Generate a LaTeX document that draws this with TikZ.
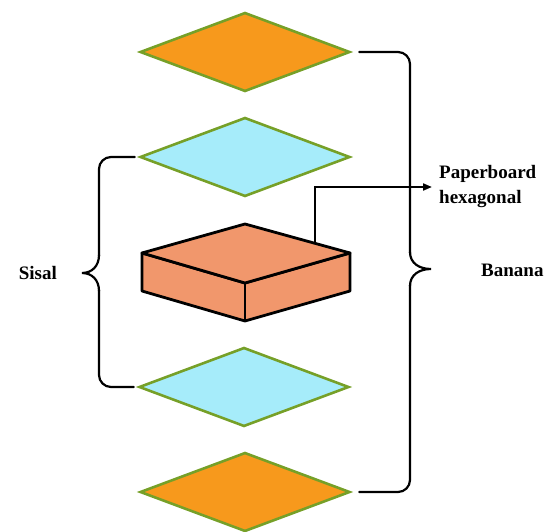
\documentclass[tikz,border=0pt]{standalone}
\usepackage{fontspec}
\setmainfont{Liberation Serif}
\usetikzlibrary{arrows.meta, shapes.geometric, positioning}
\definecolor{sheetorange}{RGB}{247,153,28}
\definecolor{sheetcyan}{RGB}{166,236,250}
\definecolor{leafgreen}{RGB}{118,160,40}
\definecolor{boardsalmon}{RGB}{241,151,108}

\begin{document}
\begin{tikzpicture}[x=1pt, y=-1pt,
  sheet/.style={diamond, aspect=2.66, draw=leafgreen, line width=2.6pt, minimum width=210pt, minimum height=79pt, inner sep=0pt},
  brace/.style={line width=2.2pt, line cap=round},
  lbl/.style={font=\fontsize{19}{25}\selectfont\bfseries, inner sep=0pt}]
\useasboundingbox (0,0) rectangle (552,532);

% fibre sheets
\node[sheet, fill=sheetorange] (bananaA) at (245,52) {};
\node[sheet, fill=sheetcyan] (sisalA) at (245,157) {};
\node[sheet, fill=sheetcyan] (sisalB) at (244,387) {};
\node[sheet, fill=sheetorange] (bananaB) at (245,492) {};

% paperboard core
\coordinate (c1) at (142,253);
\coordinate (c2) at (245,224);
\coordinate (c3) at (350,253);
\coordinate (c4) at (245,283);
\draw[line width=2.8pt, line join=round, fill=boardsalmon] (c1) -- (c4) -- (c3) -- ++(0,38) -- ++(-105,30) -- ++(-103,-30) -- cycle;
\draw[line width=2.8pt, line join=round, fill=boardsalmon] (c1) -- (c2) -- (c3) -- (c4) -- cycle;
\draw[line width=2.8pt] (c4) -- ++(0,38);
\coordinate (lid) at (315,243.5);

% labels
\node[lbl, anchor=east] (sisal) at (57,273) {Sisal};
\node[lbl, anchor=west] (banana) at (481,270) {Banana};
\node[lbl, anchor=west, align=left, inner sep=3pt] (paper) at (436,187) {Paperboard\\hexagonal};

% braces
\draw[brace, rounded corners=12pt] ([xshift=-4pt]sisalA.west) -| (99,256);
\draw[brace] (99,255) .. controls (99,266) and (92,273) .. (82,273)
  .. controls (92,273) and (99,280) .. (99,291);
\draw[brace, rounded corners=12pt] (99,290) |- ([xshift=-4pt]sisalB.west);
\draw[brace, rounded corners=12pt] ([xshift=8pt]bananaA.east) -| (410,253);
\draw[brace] (410,252) .. controls (410,263) and (419,269) .. (431,269)
  .. controls (419,269) and (410,275) .. (410,286);
\draw[brace, rounded corners=12pt] (410,285) |- ([xshift=8pt]bananaB.east);

% pointer
\draw[line width=2pt, -{Triangle[length=9pt, width=7pt]}, shorten >=4pt] (lid) |- (paper.west);
\end{tikzpicture}
\end{document}
